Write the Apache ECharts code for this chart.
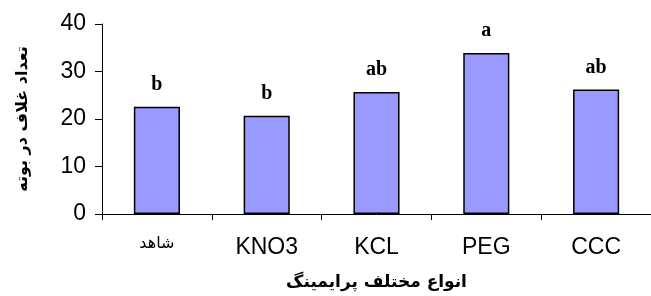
<!DOCTYPE html>
<html>
<head>
<meta charset="utf-8">
<script src="https://cdn.jsdelivr.net/npm/echarts@6/dist/echarts.min.js"></script>
<style>
  html, body { margin: 0; padding: 0; background: #fff; }
  #chart { width: 651px; height: 296px; }
</style>
</head>
<body>
<div id="chart"></div>
<script>
// treatments, pod counts and significance letters
const categories = ['شاهد', 'KNO3', 'KCL', 'PEG', 'CCC'];
const podCounts = [22.6, 20.7, 25.7, 33.9, 26.2];
const letters = ['b', 'b', 'ab', 'a', 'ab'];
const yTicks = {min: 0, max: 40, interval: 10};

const chart = echarts.init(document.getElementById('chart'));
chart.setOption({
    animation: false,
    grid: {left: 102, right: -6, top: 24, bottom: 82},
    xAxis: {
        type: 'category',
        data: categories.map(c => c === 'شاهد'
            ? {value: c, textStyle: {fontSize: 16, fontFamily: 'DejaVu Sans'}}
            : c),
        name: 'انواع مختلف پرایمینگ',
        nameLocation: 'middle',
        nameGap: 60,
        nameTextStyle: {fontFamily: 'DejaVu Sans', fontWeight: 'bold', fontSize: 17, color: '#000'},
        axisLine: {lineStyle: {color: '#000', width: 1}},
        axisTick: {show: true, interval: 0, length: 6, lineStyle: {color: '#000', width: 1}},
        axisLabel: {margin: 22, fontFamily: 'Liberation Sans', fontSize: 23, color: '#000'}
    },
    yAxis: {
        type: 'value',
        min: yTicks.min,
        max: yTicks.max,
        interval: yTicks.interval,
        name: 'تعداد غلاف در بوته',
        nameLocation: 'middle',
        nameRotate: 90,
        nameGap: 71,
        nameTextStyle: {fontFamily: 'DejaVu Sans', fontWeight: 'bold', fontSize: 16, color: '#000'},
        splitLine: {show: false},
        axisLine: {show: true, lineStyle: {color: '#000', width: 1}},
        axisTick: {show: true, length: 7, lineStyle: {color: '#000'}},
        axisLabel: {margin: 16, fontFamily: 'Liberation Sans', fontSize: 23, color: '#000'}
    },
    series: [{
        type: 'bar',
        data: podCounts,
        barWidth: '42%',
        itemStyle: {color: '#9999ff', borderColor: '#000', borderWidth: 1.5},
        label: {
            show: true,
            position: 'top',
            distance: 12,
            formatter: p => letters[p.dataIndex],
            fontFamily: 'Liberation Serif',
            fontWeight: 'bold',
            fontSize: 20,
            color: '#000'
        }
    }]
});
</script>
</body>
</html>
